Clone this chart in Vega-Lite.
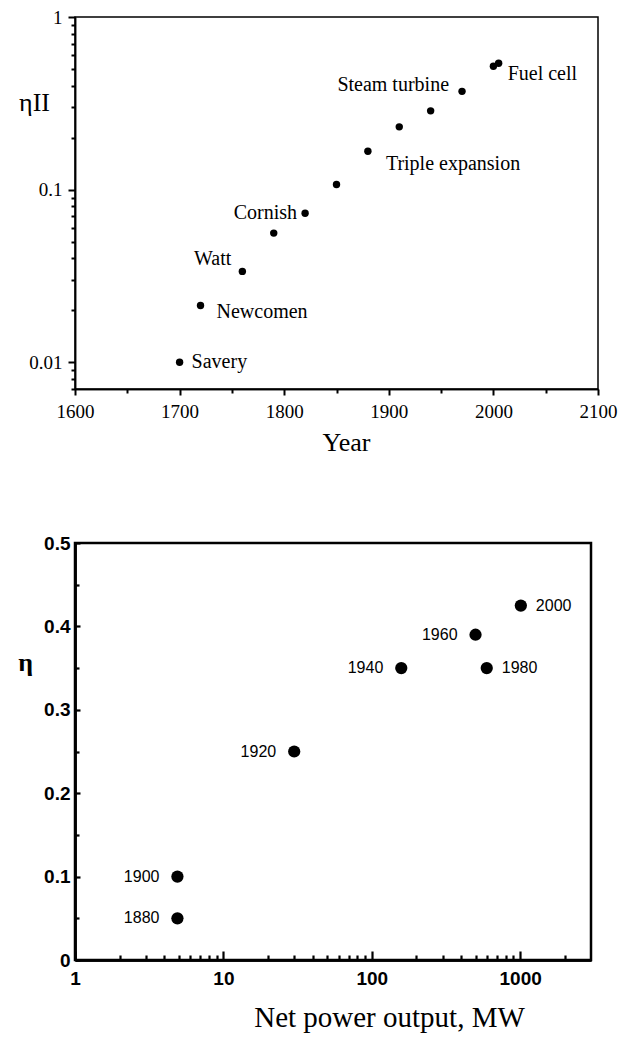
{
  "$schema": "https://vega.github.io/schema/vega-lite/v6.json",
  "padding": {"left": 16, "top": 7, "right": 0, "bottom": 0},
  "background": "white",
  "spacing": 76,
  "datasets": {
    "engines": [
      {"year": 1700, "eta": 0.01, "label": "Savery"},
      {"year": 1720, "eta": 0.0213, "label": "Newcomen"},
      {"year": 1760, "eta": 0.0336, "label": "Watt"},
      {"year": 1790, "eta": 0.056, "label": ""},
      {"year": 1820, "eta": 0.073, "label": "Cornish"},
      {"year": 1850, "eta": 0.107, "label": ""},
      {"year": 1880, "eta": 0.167, "label": "Triple expansion"},
      {"year": 1910, "eta": 0.231, "label": ""},
      {"year": 1940, "eta": 0.286, "label": ""},
      {"year": 1970, "eta": 0.371, "label": "Steam turbine"},
      {"year": 2000, "eta": 0.519, "label": ""},
      {"year": 2005, "eta": 0.54, "label": "Fuel cell"}
    ],
    "plants": [
      {"year": 1880, "power": 4.9, "eta": 0.05},
      {"year": 1900, "power": 4.9, "eta": 0.1},
      {"year": 1920, "power": 30, "eta": 0.25},
      {"year": 1940, "power": 158, "eta": 0.35},
      {"year": 1960, "power": 500, "eta": 0.39},
      {"year": 1980, "power": 595, "eta": 0.35},
      {"year": 2000, "power": 1010, "eta": 0.425}
    ]
  },
  "vconcat": [
    {
      "width": 523,
      "height": 372,
      "view": {"stroke": "black", "strokeWidth": 1.5},
      "data": {"name": "engines"},
      "resolve": {"axis": {"x": "independent", "y": "independent"}},
      "layer": [
        {
          "encoding": {
            "x": {
              "field": "year",
              "type": "quantitative",
              "scale": {"domain": [1600, 2100], "nice": false, "zero": false},
              "axis": {
                "orient": "bottom",
                "values": [1600, 1700, 1800, 1900, 2000, 2100],
                "format": "d",
                "labelFlush": false,
                "labelOverlap": false,
                "grid": false,
                "domainColor": "black",
                "domainWidth": 1.5,
                "tickColor": "black",
                "tickWidth": 2,
                "tickSize": 6,
                "labelPadding": 7,
                "labelFont": "Liberation Serif",
                "labelFontSize": 19,
                "labelColor": "black",
                "title": "Year",
                "titleFont": "Liberation Serif",
                "titleFontSize": 26,
                "titleFontWeight": "normal",
                "titleColor": "black",
                "titleX": 271,
                "titleY": 61,
                "titleBaseline": "alphabetic"
              }
            },
            "y": {
              "field": "eta",
              "type": "quantitative",
              "scale": {"type": "log", "domain": [0.007, 1], "nice": false},
              "axis": {
                "orient": "left",
                "values": [0.01, 0.1, 1],
                "format": "~g",
                "labelFlush": false,
                "labelOverlap": false,
                "grid": false,
                "domainColor": "black",
                "domainWidth": 1.5,
                "tickColor": "black",
                "tickWidth": 2,
                "tickSize": 7,
                "labelPadding": 6,
                "labelFont": "Liberation Serif",
                "labelFontSize": 19,
                "labelColor": "black",
                "title": "ηII",
                "titleFont": "Liberation Serif",
                "titleFontSize": 26,
                "titleFontWeight": "normal",
                "titleColor": "black",
                "titleAngle": 0,
                "titleX": -41,
                "titleY": 93,
                "titleAlign": "center",
                "titleBaseline": "alphabetic"
              }
            }
          },
          "layer": [
            {"mark": {"type": "circle", "size": 55, "color": "black", "opacity": 1}},
            {
              "transform": [{"filter": "datum.label == 'Savery'"}],
              "mark": {"type": "text", "align": "left", "baseline": "middle", "dx": 12, "dy": 0, "font": "Liberation Serif", "fontSize": 20, "color": "black"},
              "encoding": {"text": {"field": "label", "type": "nominal"}}
            },
            {
              "transform": [{"filter": "datum.label == 'Newcomen'"}],
              "mark": {"type": "text", "align": "left", "baseline": "middle", "dx": 16, "dy": 6, "font": "Liberation Serif", "fontSize": 20, "color": "black"},
              "encoding": {"text": {"field": "label", "type": "nominal"}}
            },
            {
              "transform": [{"filter": "datum.label == 'Triple expansion'"}],
              "mark": {"type": "text", "align": "left", "baseline": "middle", "dx": 18, "dy": 13, "font": "Liberation Serif", "fontSize": 20, "color": "black"},
              "encoding": {"text": {"field": "label", "type": "nominal"}}
            },
            {
              "transform": [{"filter": "datum.label == 'Fuel cell'"}],
              "mark": {"type": "text", "align": "left", "baseline": "middle", "dx": 9, "dy": 11, "font": "Liberation Serif", "fontSize": 20, "color": "black"},
              "encoding": {"text": {"field": "label", "type": "nominal"}}
            },
            {
              "transform": [{"filter": "datum.label == 'Watt'"}],
              "mark": {"type": "text", "align": "right", "baseline": "middle", "dx": -11, "dy": -12, "font": "Liberation Serif", "fontSize": 20, "color": "black"},
              "encoding": {"text": {"field": "label", "type": "nominal"}}
            },
            {
              "transform": [{"filter": "datum.label == 'Steam turbine'"}],
              "mark": {"type": "text", "align": "right", "baseline": "middle", "dx": -13, "dy": -6, "font": "Liberation Serif", "fontSize": 20, "color": "black"},
              "encoding": {"text": {"field": "label", "type": "nominal"}}
            },
            {
              "transform": [{"filter": "datum.label == 'Cornish'"}],
              "mark": {"type": "text", "align": "right", "baseline": "middle", "dx": -8, "dy": 0, "font": "Liberation Serif", "fontSize": 20, "color": "black"},
              "encoding": {"text": {"field": "label", "type": "nominal"}}
            }
          ]
        },
        {
          "mark": {"type": "point", "opacity": 0},
          "encoding": {
            "x": {
              "field": "year",
              "type": "quantitative",
              "scale": {"domain": [1600, 2100], "nice": false, "zero": false},
              "axis": {
                "orient": "bottom",
                "values": [1650, 1750, 1850, 1950, 2050],
                "labels": false,
                "grid": false,
                "domainColor": "black",
                "domainWidth": 1.5,
                "tickColor": "black",
                "tickWidth": 2,
                "tickSize": 4,
                "title": null
              }
            },
            "y": {
              "field": "eta",
              "type": "quantitative",
              "scale": {"type": "log", "domain": [0.007, 1], "nice": false},
              "axis": {
                "orient": "left",
                "values": [0.007, 0.008, 0.009, 0.02, 0.03, 0.04, 0.05, 0.06, 0.07, 0.08, 0.09, 0.2, 0.3, 0.4, 0.5, 0.6, 0.7, 0.8, 0.9],
                "labels": false,
                "grid": false,
                "domainColor": "black",
                "domainWidth": 1.5,
                "tickColor": "black",
                "tickWidth": 2,
                "tickSize": 4,
                "title": null
              }
            }
          }
        }
      ]
    },
    {
      "width": 516,
      "height": 417,
      "view": {"stroke": "black", "strokeWidth": 2.5},
      "data": {"name": "plants"},
      "resolve": {"axis": {"x": "independent", "y": "independent"}},
      "layer": [
        {
          "encoding": {
            "x": {
              "field": "power",
              "type": "quantitative",
              "scale": {"type": "log", "domain": [1, 3000], "nice": false},
              "axis": {
                "orient": "bottom",
                "values": [1, 10, 100, 1000],
                "format": "d",
                "labelFlush": false,
                "labelOverlap": false,
                "grid": false,
                "domainColor": "black",
                "domainWidth": 2.5,
                "tickColor": "black",
                "tickWidth": 2.2,
                "tickSize": -9,
                "labelPadding": 18,
                "labelFont": "Liberation Sans",
                "labelFontWeight": "bold",
                "labelFontSize": 19,
                "labelColor": "black",
                "title": "Net power output, MW",
                "titleFont": "Liberation Serif",
                "titleFontSize": 29,
                "titleFontWeight": "normal",
                "titleColor": "black",
                "titleX": 314,
                "titleY": 66,
                "titleBaseline": "alphabetic"
              }
            },
            "y": {
              "field": "eta",
              "type": "quantitative",
              "scale": {"domain": [0, 0.5], "nice": false, "zero": false},
              "axis": {
                "orient": "left",
                "values": [0, 0.1, 0.2, 0.3, 0.4, 0.5],
                "format": "~g",
                "labelFlush": false,
                "labelOverlap": false,
                "grid": false,
                "domainColor": "black",
                "domainWidth": 2.5,
                "tickColor": "black",
                "tickWidth": 2.2,
                "tickSize": -5,
                "labelPadding": 10,
                "labelFont": "Liberation Sans",
                "labelFontWeight": "bold",
                "labelFontSize": 19,
                "labelColor": "black",
                "title": "η",
                "titleFont": "Liberation Serif",
                "titleFontSize": 26,
                "titleFontWeight": "bold",
                "titleColor": "black",
                "titleAngle": 0,
                "titleX": -50,
                "titleY": 127,
                "titleAlign": "center",
                "titleBaseline": "alphabetic"
              }
            }
          },
          "layer": [
            {"mark": {"type": "circle", "size": 150, "color": "black", "opacity": 1}},
            {
              "transform": [{"filter": "datum.year <= 1960"}],
              "mark": {"type": "text", "align": "right", "baseline": "middle", "dx": -18, "font": "Liberation Sans", "fontSize": 16, "color": "black"},
              "encoding": {"text": {"field": "year", "type": "nominal"}}
            },
            {
              "transform": [{"filter": "datum.year >= 1980"}],
              "mark": {"type": "text", "align": "left", "baseline": "middle", "dx": 15, "font": "Liberation Sans", "fontSize": 16, "color": "black"},
              "encoding": {"text": {"field": "year", "type": "nominal"}}
            }
          ]
        },
        {
          "mark": {"type": "point", "opacity": 0},
          "encoding": {
            "x": {
              "field": "power",
              "type": "quantitative",
              "scale": {"type": "log", "domain": [1, 3000], "nice": false},
              "axis": {
                "orient": "bottom",
                "values": [2, 3, 4, 5, 6, 7, 8, 9, 20, 30, 40, 50, 60, 70, 80, 90, 200, 300, 400, 500, 600, 700, 800, 900, 2000],
                "labels": false,
                "grid": false,
                "domainColor": "black",
                "domainWidth": 2.5,
                "tickColor": "black",
                "tickWidth": 2.2,
                "tickSize": -5,
                "title": null
              }
            },
            "y": {
              "field": "eta",
              "type": "quantitative",
              "scale": {"domain": [0, 0.5], "nice": false, "zero": false},
              "axis": {
                "orient": "left",
                "values": [0.05, 0.15, 0.25, 0.35, 0.45],
                "labels": false,
                "grid": false,
                "domainColor": "black",
                "domainWidth": 2.5,
                "tickColor": "black",
                "tickWidth": 2.2,
                "tickSize": -4,
                "title": null
              }
            }
          }
        }
      ]
    }
  ]
}
